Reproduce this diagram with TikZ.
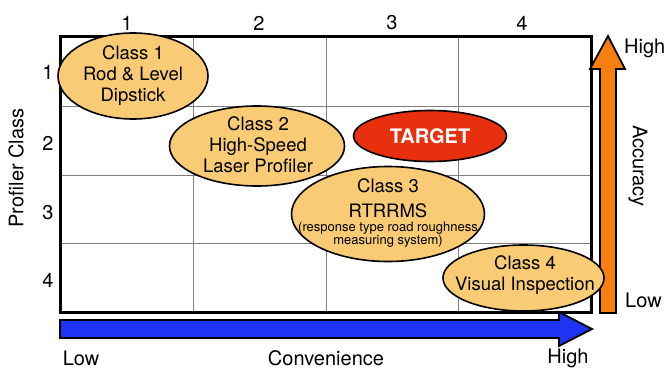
\documentclass[tikz,border=0pt]{standalone}
\usepackage{fontspec}
\setmainfont{TeX Gyre Heros}
\usetikzlibrary{shapes.geometric}
\definecolor{pcTan}{HTML}{F8CB74}
\definecolor{pcRed}{HTML}{E8300E}
\definecolor{pcBlue}{HTML}{1F33F2}
\definecolor{pcOrange}{HTML}{F77F12}
\tikzset{
  blob/.style={ellipse, draw=black, line width=1.6pt, fill=pcTan, inner sep=0pt},
  blobtxt/.style={align=center, font=\fontsize{18.5}{21}\selectfont},
  axislbl/.style={font=\fontsize{20}{20}\selectfont, inner sep=0pt},
  bigarrow/.style={draw=black, line width=1.8pt, line join=miter},
}

\begin{document}
\begin{tikzpicture}[x=1pt,y=-1pt]
  \useasboundingbox (0,0) rectangle (664,369);
  % grid and frame
  \foreach \x in {193,326,458} \draw[gray, line width=0.8pt] (\x,37) -- (\x,312);
  \foreach \y in {106,175,243} \draw[gray, line width=0.8pt] (60,\y) -- (591,\y);
  \draw[line width=3pt] (60,37) rectangle (591,312);

  % class numbers along both sides
  \foreach \n/\x in {1/127,2/259,3/392,4/522}
    \node[axislbl] (col\n) at (\x,23) {\n};
  \foreach \n/\y in {1/72,2/143,3/213,4/280}
    \node[axislbl] (row\n) at (48,\y) {\n};
  \node[axislbl, rotate=90] (ylbl) at (16,168) {Profiler Class};

  % convenience and accuracy arrows
  \path[bigarrow, fill=pcBlue] (60,320) -- (559,320) -- (559,312) -- (592,329)
    -- (559,346) -- (559,338) -- (60,338) -- cycle;
  \path[bigarrow, fill=pcOrange] (600,313) -- (600,69) -- (590,69) -- (608,36)
    -- (625,69) -- (616,69) -- (616,313) -- cycle;
  \node[axislbl] (convlo) at (81,358) {Low};
  \node[axislbl] (conv) at (326,358) {Convenience};
  \node[axislbl] (convhi) at (568,358) {High};
  \node[axislbl, anchor=west] (acchi) at (624,48) {High};
  \node[axislbl, anchor=west] (acclo) at (625,300) {Low};
  \node[axislbl, rotate=-90] (acc) at (638,166) {Accuracy};

  % profiler classes
  \node[blob, minimum width=150, minimum height=86] (cls1) at (133,76) {};
  \node[blobtxt] (cls1txt) at (cls1) {Class 1\\Rod \& Level\\Dipstick};
  \node[blob, minimum width=175, minimum height=80] (cls2) at (257,146) {};
  \node[blobtxt] (cls2txt) at (258,145) {Class 2\\High-Speed\\Laser Profiler};
  \node[blob, fill=pcRed, minimum width=153, minimum height=51, text=white,
        font=\bfseries\fontsize{20}{20}\selectfont] (target) at (430,136) {TARGET};
  \node[blob, minimum width=193, minimum height=95] (cls3) at (388,214) {};
  \node[blobtxt, font=\fontsize{18.5}{25}\selectfont] (cls3txt) at (388,198) {Class 3\\RTRRMS};
  \node[align=center, font=\fontsize{13}{13}\selectfont] (cls3sub) at (388,235)
    {(response type road roughness\\measuring system)};
  \node[blob, minimum width=161, minimum height=66] (cls4) at (523.5,278) {};
  \node[blobtxt] (cls4txt) at (525,275) {Class 4\\Visual Inspection};
\end{tikzpicture}
\end{document}
